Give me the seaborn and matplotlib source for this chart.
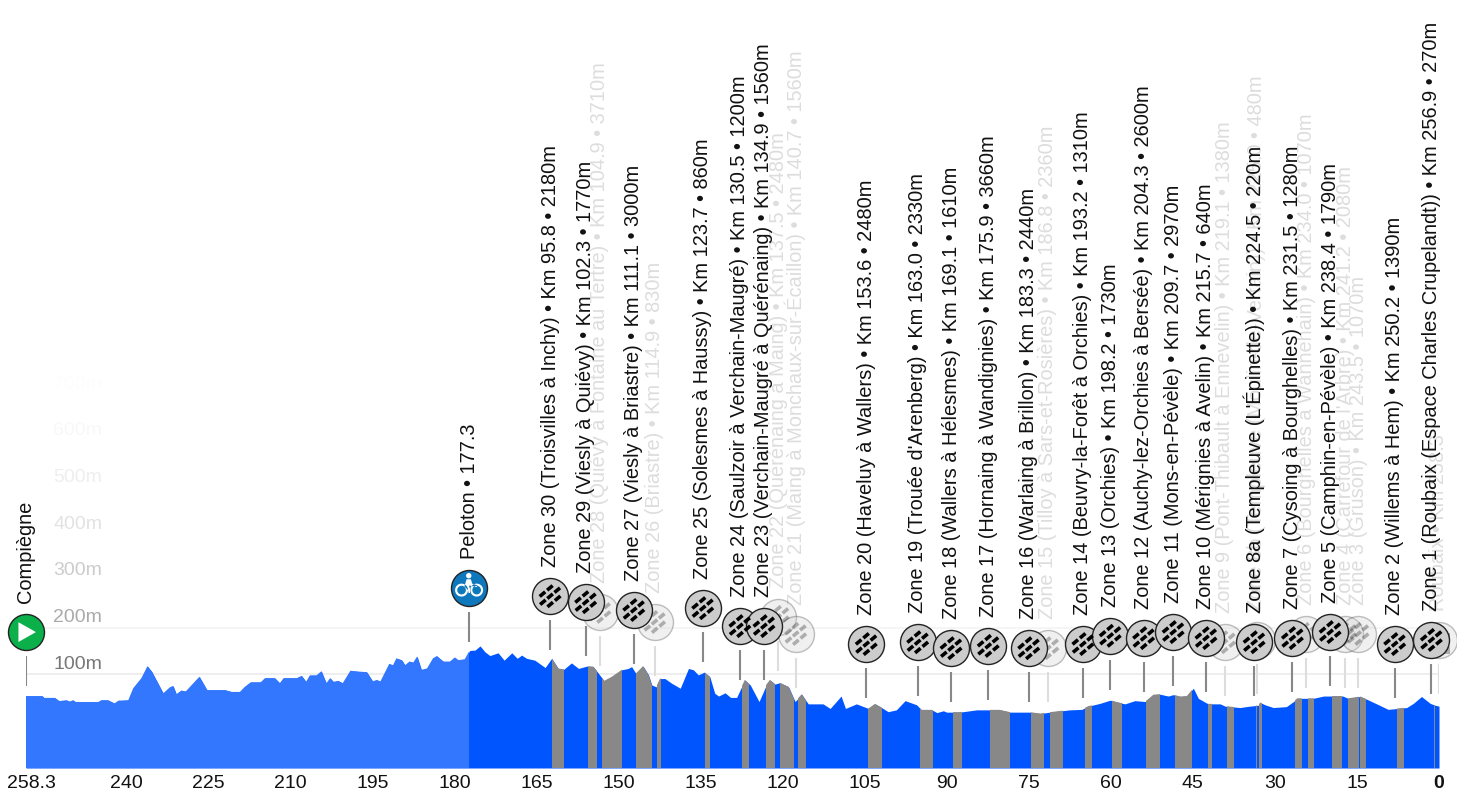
import numpy as np
import matplotlib
matplotlib.use("Agg")
import matplotlib.pyplot as plt
from matplotlib.path import Path
from matplotlib.transforms import ScaledTranslation
import pandas as pd
import seaborn as sns

# profile: km to go, altitude in m
profile_km = [258.3, 255.3, 255.0, 253.0, 252.2, 250.9, 250.3, 249.7, 249.2, 245.1,
              244.5, 243.3, 242.1, 241.4, 239.6, 238.7, 237.2, 236.1, 235.3, 233.2,
              232.0, 231.4, 230.8, 229.9, 229.1, 226.6, 225.2, 221.9, 220.7, 219.2,
              218.3, 217.2, 215.4, 214.6, 212.8, 211.9, 211.2, 208.8, 207.9, 207.1,
              206.4, 205.2, 204.3, 203.4, 202.7, 202.1, 201.2, 200.4, 199.0, 197.3,
              196.0, 194.9, 194.2, 193.5, 191.9, 191.2, 190.6, 189.6, 189.0, 188.2,
              187.5, 186.8, 186.0, 185.0, 183.9, 183.2, 182.0, 180.8, 179.9, 179.3,
              178.1, 177.2, 176.2,
              175.3, 174.4, 173.5, 172.0, 170.9, 169.5, 168.5, 167.7, 166.8, 165.3,
              163.4, 162.2, 161.0, 160.0, 158.6, 157.3, 155.8, 154.6, 152.6, 151.2,
              149.4, 148.2, 147.6, 146.8, 145.5, 144.5, 143.9, 143.1, 142.4, 141.5,
              140.3, 138.7, 137.2, 136.3, 135.4, 134.3, 133.3, 132.4, 131.7, 130.5,
              129.5, 128.4, 126.9, 125.9, 124.3, 122.9, 122.3, 121.4, 120.5, 118.9,
              117.7, 116.5, 115.6, 115.3, 112.6, 111.3, 109.3, 108.5, 106.5, 104.3,
              103.1, 101.9, 100.7, 99.2, 97.6, 95.5, 94.6, 92.7, 91.8, 90.6, 90.0,
              87.6, 84.5, 80.3, 78.4, 74.8, 72.9, 71.1, 67.5, 65.3, 64.1,
              62.0, 60.1, 58.9, 57.4, 55.6, 53.7, 52.2, 51.0, 49.5, 48.6,
              47.3, 46.1, 44.9, 44.0, 42.2, 40.0, 39.1, 36.4, 34.6, 33.0,
              32.7, 31.8, 30.3, 27.9, 26.6, 25.9, 23.0, 21.1, 17.6, 16.6,
              14.4, 13.2, 11.4, 9.3, 5.9, 4.7, 3.2, 1.6, 0.7, 0.0]
profile_m = [51, 51, 47, 47, 40, 42, 39, 42, 38, 38,
             42, 42, 35, 41, 42, 68, 90, 116, 104, 57,
             70, 73, 55, 63, 61, 93, 64, 64, 60, 60,
             71, 81, 81, 90, 90, 79, 90, 90, 95, 82,
             96, 96, 105, 79, 90, 82, 84, 79, 106, 104,
             103, 83, 86, 83, 121, 118, 133, 129, 118, 126,
             124, 137, 108, 111, 133, 138, 126, 126, 135, 129,
             131, 150, 151,
             160, 147, 139, 145, 129, 145, 133, 140, 133, 129,
             113, 133, 111, 109, 123, 111, 116, 115, 84, 93,
             108, 111, 115, 100, 116, 97, 75, 71, 89, 89,
             79, 68, 111, 108, 97, 103, 93, 57, 51, 58,
             48, 48, 86, 75, 39, 77, 86, 77, 80, 71,
             39, 55, 39, 34, 34, 24, 51, 24, 34, 24,
             34, 26, 17, 21, 41, 32, 21, 21, 15, 19, 16,
             16, 21, 21, 16, 16, 13, 16, 21, 22, 29,
             35, 42, 38, 34, 41, 39, 54, 55, 51, 54,
             50, 51, 68, 46, 34, 34, 29, 26, 29, 31,
             37, 32, 26, 28, 39, 46, 46, 51, 51, 46,
             50, 44, 34, 22, 26, 35, 50, 35, 31, 29]

race_km = 258.3
peloton_km = 177.3

zone_names = ["Zone 30 (Troisvilles à Inchy)", "Zone 29 (Viesly à Quiévy)",
              "Zone 28 (Quiévy à Fontaine au Tertre)", "Zone 27 (Viesly à Briastre)",
              "Zone 26 (Briastre)", "Zone 25 (Solesmes à Haussy)",
              "Zone 24 (Saulzoir à Verchain-Maugré)", "Zone 23 (Verchain-Maugré à Quérénaing)",
              "Zone 22 (Quérénaing à Maing)", "Zone 21 (Maing à Monchaux-sur-Écaillon)",
              "Zone 20 (Haveluy à Wallers)", "Zone 19 (Trouée d'Arenberg)",
              "Zone 18 (Wallers à Hélesmes)", "Zone 17 (Hornaing à Wandignies)",
              "Zone 16 (Warlaing à Brillon)", "Zone 15 (Tilloy à Sars-et-Rosières)",
              "Zone 14 (Beuvry-la-Forêt à Orchies)", "Zone 13 (Orchies)",
              "Zone 12 (Auchy-lez-Orchies à Bersée)", "Zone 11 (Mons-en-Pévèle)",
              "Zone 10 (Mérignies à Avelin)", "Zone 9 (Pont-Thibault à Ennevelin)",
              "Zone 8a (Templeuve (L'Épinette))", "Zone 8b (Templeuve (Moulin-de-Vertain))",
              "Zone 7 (Cysoing à Bourghelles)", "Zone 6 (Bourghelles à Wannehain)",
              "Zone 5 (Camphin-en-Pévèle)", "Zone 4 (Carrefour de l'Arbre)",
              "Zone 3 (Gruson)", "Zone 2 (Willems à Hem)",
              "Zone 1 (Roubaix (Espace Charles Crupelandt))"]
zone_km = [95.8, 102.3, 104.9, 111.1, 114.9, 123.7, 130.5, 134.9, 137.5, 140.7,
           153.6, 163.0, 169.1, 175.9, 183.3, 186.8, 193.2, 198.2, 204.3, 209.7,
           215.7, 219.1, 224.5, 225.0, 231.5, 234.0, 238.4, 241.2, 243.5, 250.2, 256.9]
zone_len = [2180, 1770, 3710, 3000, 830, 860, 1200, 1560, 2480, 1560,
            2480, 2330, 1610, 3660, 2440, 2360, 1310, 1730, 2600, 2970,
            640, 1380, 220, 480, 1280, 1070, 1790, 2080, 1070, 1390, 270]
zone_faded = [0, 0, 1, 0, 1, 0, 0, 0, 1, 1,
              0, 0, 0, 0, 0, 1, 0, 0, 0, 0,
              0, 1, 0, 1, 0, 1, 0, 1, 1, 0, 0]
# height of each marker above the profile, staggered so they do not collide
zone_icon_m = [268, 255, 234, 238, 212, 242, 203, 203, 223, 186,
               164, 168, 155, 160, 155, 155, 164, 182, 177, 190,
               177, 168, 168, 173, 177, 186, 190, 186, 186, 164, 173]

altitude_ticks = [100, 200, 300, 400, 500, 600, 700]
altitude_colors = ["#777777", "#aaaaaa", "#cccccc", "#e2e2e2", "#eeeeee", "#f8f8f8", "#fdfdfd"]
km_ticks = [258.3, 240, 225, 210, 195, 180, 165, 150, 135, 120, 105, 90, 75, 60, 45, 30, 15, 0]

sns.set_theme(style="white")
plt.rcParams["font.family"] = ["Liberation Sans", "DejaVu Sans"]

W, H = 1457, 793
fig = plt.figure(figsize=(W / 100, H / 100), dpi=100)
ax = fig.add_axes([26 / W, 25 / H, 1413 / W, 768 / H])
ax.set_xlim(race_km, 0)
ax.set_ylim(-105.4, 1564)
sns.despine(ax=ax, left=True, bottom=True)
ax.set_yticks([])

# altitude grid
for alt, col in zip(altitude_ticks, altitude_colors):
    if alt <= 200:
        ax.axhline(alt, color="#eeeeee" if alt == 100 else "#f5f5f5", lw=1.4, zorder=1)
    ax.text(244.4, alt * 1.015 + 18.5, f"{alt}m", color=col, fontsize=14, ha="right", va="center", zorder=1)

# profile, with pieces clipped to its outline
poly = ax.fill_between(profile_km, profile_m, -105.4, color="#0055ff", lw=0, zorder=2)
clip = poly.get_paths()[0]
done = ax.axvspan(race_km, peloton_km, color="#3377ff", lw=0, zorder=2.1)
done.set_clip_path(clip, transform=ax.transData)
for km, length in zip(zone_km, zone_len):
    togo = race_km - km - 0.4  # grey starts sit slightly right of the km in the label
    span = ax.axvspan(togo, togo - length / 1000, color="#888888", lw=0, zorder=2.2)
    span.set_clip_path(clip, transform=ax.transData)


# marker shapes, radius 1 with a corner point so all are scaled alike
def polygon(pts):
    pts = np.asarray(pts, float)
    verts = np.vstack([pts, pts[0]])
    codes = [Path.MOVETO] + [Path.LINETO] * (len(pts) - 1) + [Path.CLOSEPOLY]
    return Path(verts, codes)


def ring(cx, cy, r_out, r_in=0.0):
    t = np.linspace(0, 2 * np.pi, 40, endpoint=False)
    parts = [polygon(np.c_[cx + r_out * np.cos(t), cy + r_out * np.sin(t)])]
    if r_in > 0:
        parts.append(polygon(np.c_[cx + r_in * np.cos(t[::-1]), cy + r_in * np.sin(t[::-1])]))
    return Path.make_compound_path(*parts)


def icon(parts):
    scale = polygon([(1, 0), (1, 0), (1, 0)])
    return Path.make_compound_path(scale, *parts)


def brick(u, v, angle=np.radians(40), hl=0.2, hw=0.1):
    c, s = np.cos(angle), np.sin(angle)
    box = [(u - hl, v - hw), (u + hl, v - hw), (u + hl, v + hw), (u - hl, v + hw)]
    return polygon([(a * c - b * s, a * s + b * c) for a, b in box])


cobble_path = icon([brick(-0.25, 0.36), brick(0.29, 0.36),
                    brick(-0.52, 0.0), brick(0.0, 0.0), brick(0.52, 0.0),
                    brick(-0.29, -0.36), brick(0.25, -0.36)])
bike_path = icon([ring(-0.42, -0.12, 0.36, 0.24), ring(0.42, -0.12, 0.36, 0.24), ring(-0.02, 0.68, 0.15),
                  polygon([(-0.14, 0.48), (0.1, 0.48), (0.17, 0.24), (0.46, 0.14), (0.42, 0.05),
                           (0.08, 0.12), (-0.01, 0.13), (0.06, -0.08), (0.06, -0.28), (-0.03, -0.28),
                           (-0.06, -0.12), (-0.26, 0.08)])])
play_path = icon([polygon([(-0.42, -0.55), (-0.42, 0.55), (0.55, 0.0)])])
check_path = icon([polygon([(x, y), (x + 0.4, y), (x + 0.4, y + 0.4), (x, y + 0.4)])
                   for x, y in [(-0.6, 0.0), (-0.2, -0.4), (0.2, 0.0), (-0.2, 0.4), (0.2, -0.8), (-0.6, -0.8)]])

ICON_S = (36 * 0.72) ** 2
STEM_TOP, STEM_BOTTOM = 52, 117
LABEL_GAP = 63


def draw_marks(togo, alt, labels, glyph, fill, glyph_color, faded, z):
    alpha = 0.28 if faded else 1
    stem = "#dddddd" if faded else "#888888"
    text_color = "#dddddd" if faded else "#111111"
    ax.vlines(togo, [a - STEM_BOTTOM for a in alt], [a - STEM_TOP for a in alt],
              color=stem, lw=1.5, zorder=z)
    for x, a, lab in zip(togo, alt, labels):
        ax.text(x, a + LABEL_GAP, lab, rotation=90, ha="center", va="bottom",
                fontsize=14.4, color=text_color, zorder=z)
    df = pd.DataFrame({"togo": togo, "alt": alt})
    sns.scatterplot(data=df, x="togo", y="alt", ax=ax, s=ICON_S, color=fill, edgecolor="#222222",
                    linewidth=1, alpha=alpha, clip_on=False, zorder=z, legend=False)
    sns.scatterplot(data=df, x="togo", y="alt", ax=ax, s=ICON_S, color=glyph_color, marker=glyph,
                    edgecolor="none", linewidth=0, alpha=alpha, clip_on=False, zorder=z + 0.1, legend=False)


zones = pd.DataFrame({"name": zone_names, "km": zone_km, "len": zone_len,
                      "alt": zone_icon_m, "faded": zone_faded})
zones["togo"] = race_km - zones["km"]
zones["label"] = [f"{n} • Km {k:.1f} • {l}m" for n, k, l in zip(zones["name"], zones["km"], zones["len"])]

faded_zones = zones[zones["faded"] == 1]
solid_zones = zones[zones["faded"] == 0]
draw_marks(faded_zones["togo"].tolist(), faded_zones["alt"].tolist(), faded_zones["label"].tolist(),
           cobble_path, "#cccccc", "black", True, 4)
draw_marks([0.0], [173], ["Roubaix • Km 258.3"], check_path, "#cccccc", "black", True, 4)
draw_marks(solid_zones["togo"].tolist(), solid_zones["alt"].tolist(), solid_zones["label"].tolist(),
           cobble_path, "#cccccc", "black", False, 6)
draw_marks([race_km], [190], ["Compiègne"], play_path, "#0cb04a", "white", False, 6)
draw_marks([peloton_km], [286], [f"Peloton • {peloton_km}"], bike_path, "#0f78bd", "white", False, 6)

# km to go along the bottom
ax.set_xticks(km_ticks)
ax.set_xticklabels([str(k) for k in km_ticks], fontsize=14, color="#111111")
ax.tick_params(axis="x", length=0, pad=5)
ax.set_xlabel("")
ax.set_ylabel("")
labels = ax.get_xticklabels()
labels[0].set_transform(labels[0].get_transform() + ScaledTranslation(5 / 100, 0, fig.dpi_scale_trans))
labels[-1].set_fontweight("bold")

fig.savefig("out.png", dpi=100)
